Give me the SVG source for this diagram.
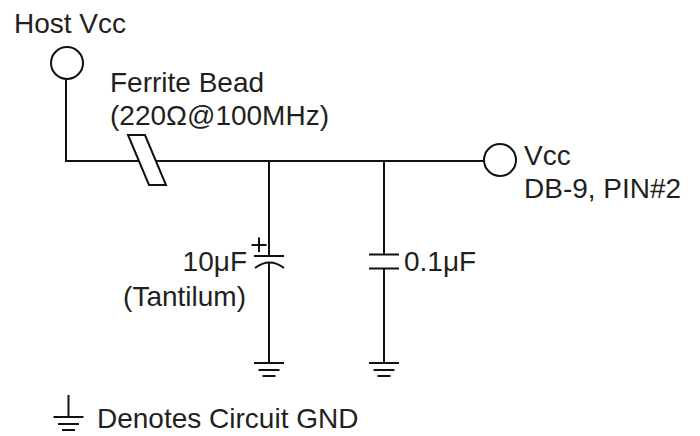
<svg xmlns="http://www.w3.org/2000/svg" width="700" height="436" viewBox="0 0 700 436">
<style>
text{font-family:"Liberation Sans",Arial,sans-serif;font-size:28px;fill:#231f20}
.w{stroke:#111;stroke-width:2;fill:none}
.c{stroke:#111;stroke-width:2;fill:#fff}
</style>
<defs>
<g id="gnd" class="w">
<line x1="-15" y1="0" x2="15" y2="0"/>
<line x1="-10.5" y1="7" x2="10.5" y2="7"/>
<line x1="-6.5" y1="13" x2="6.5" y2="13"/>
</g>
</defs>
<rect width="700" height="436" fill="#fff"/>
<g id="connectors" class="w">
<path d="M66 79V161H484"/>
<line x1="269" y1="161" x2="269" y2="256"/>
<line x1="269" y1="262" x2="269" y2="363"/>
<line x1="384" y1="161" x2="384" y2="254.5"/>
<line x1="384" y1="268.5" x2="384" y2="363"/>
</g>
<g id="host-vcc">
<circle class="c" cx="67" cy="63" r="16"/>
<text x="14" y="33">Host Vcc</text>
</g>
<g id="ferrite-bead">
<polygon class="c" points="128,135 145,135 166,185 149,185"/>
<text x="110" y="92">Ferrite Bead</text>
<text x="110" y="125">(220Ω@100MHz)</text>
</g>
<g id="vcc-out">
<circle class="c" cx="500" cy="160" r="16"/>
<text x="524" y="165">Vcc</text>
<text x="524" y="198">DB-9, PIN#2</text>
</g>
<g id="c1">
<line class="w" x1="254" y1="256" x2="284" y2="256"/>
<path class="w" d="M255 268Q269.5 257 284 268"/>
<path class="w" d="M251.5 245H266.5M259 237.5V252"/>
<text x="247" y="271" text-anchor="end">10μF</text>
<text x="246" y="306" text-anchor="end">(Tantilum)</text>
</g>
<g id="c2">
<line class="w" x1="369" y1="254.5" x2="399" y2="254.5"/>
<line class="w" x1="369" y1="268.5" x2="399" y2="268.5"/>
<text x="404" y="271">0.1μF</text>
</g>
<g id="gnd1"><use href="#gnd" x="269" y="363"/></g>
<g id="gnd2"><use href="#gnd" x="384" y="363"/></g>
<g id="legend">
<line class="w" x1="68.5" y1="395" x2="68.5" y2="417"/>
<use href="#gnd" x="68.5" y="417"/>
<text x="97" y="428">Denotes Circuit GND</text>
</g>
</svg>
